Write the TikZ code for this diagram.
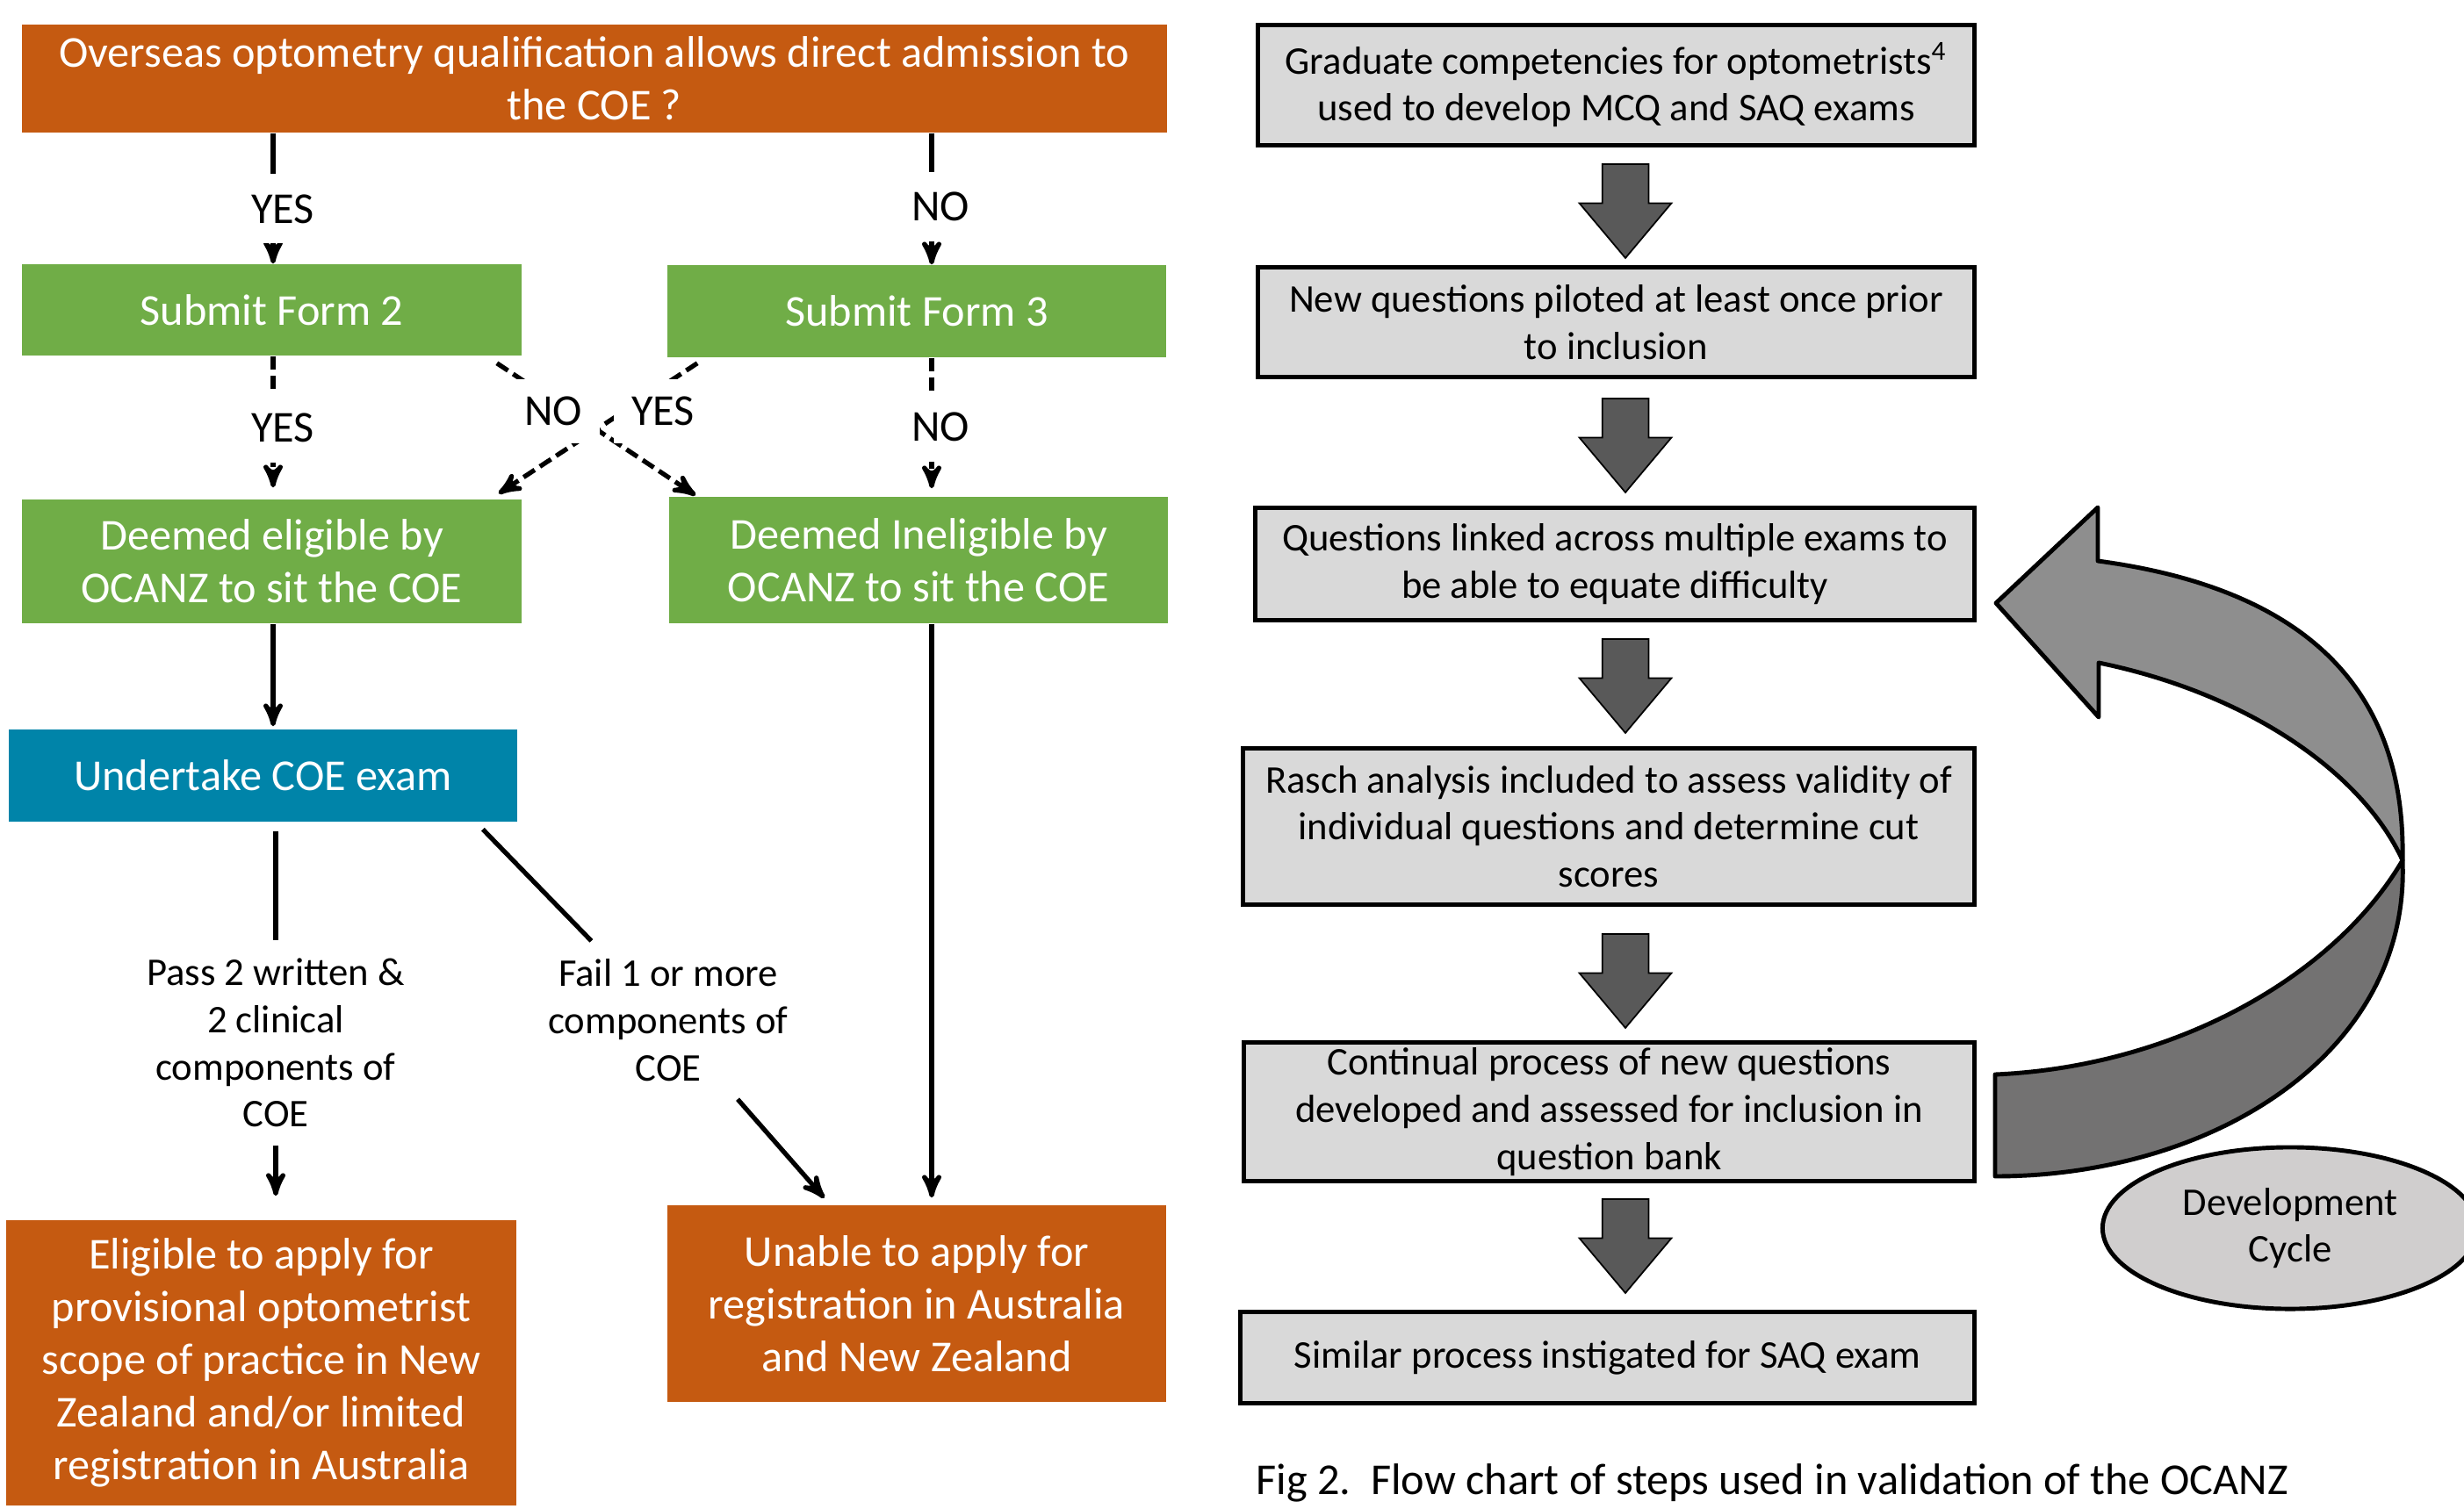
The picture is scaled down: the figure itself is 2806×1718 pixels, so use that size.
\documentclass[tikz,border=0pt]{standalone}
\usepackage{fontspec}
\setmainfont{Carlito}
\usetikzlibrary{arrows,positioning,shapes.geometric,shapes.arrows}
\definecolor{ocorange}{HTML}{C55A11}
\definecolor{ocgreen}{HTML}{70AD47}
\definecolor{ocblue}{HTML}{0084A9}
\definecolor{stepgray}{HTML}{D9D9D9}
\definecolor{arrowgray}{HTML}{595959}
\definecolor{cyclelight}{HTML}{8E8E8E}
\definecolor{cycledark}{HTML}{737272}
\definecolor{ellipsegray}{HTML}{D0CECE}
\newcommand{\ocbig}{\fontsize{14.3}{17.1}\selectfont}
\newcommand{\ocsmall}{\fontsize{12.7}{15.3}\selectfont}
\tikzset{>=stealth',
  every node/.style={inner sep=0pt},
  flowbox/.style={rectangle, text=white, align=center, font=\ocbig},
  stepbox/.style={rectangle, draw=black, line width=1.4pt, fill=stepgray,
    align=center, font=\ocsmall},
  blockarr/.style={single arrow, draw=black, line width=0.5pt, fill=arrowgray,
    shape border rotate=270, inner sep=0.255cm, minimum height=1.07cm,
    single arrow head extend=0.26cm, single arrow tip angle=80, anchor=tail},
  conn/.style={line width=1.5pt},
  dashconn/.style={line width=1.5pt, dash pattern=on 4.3pt off 2pt},
  lbl/.style={font=\ocbig, fill=white, inner xsep=2pt, inner ysep=0.23cm},
  cyclearrow/.style={draw=black, line width=1.4pt, line join=round}
}
\begin{document}
\begin{tikzpicture}[x=0.01cm, y=-0.01cm]
  \useasboundingbox (0,0) rectangle (2806,1718);
  \coordinate (colA) at (311,0);
  \coordinate (colB) at (1061,0);
  \node [flowbox, fill=ocorange, minimum width=13.04cm, minimum height=1.23cm] (question) at (677,89.5)
    {Overseas optometry qualification allows direct admission to\\the COE ?};
  \node [flowbox, fill=ocgreen, minimum width=5.69cm, minimum height=1.04cm] (form2) at (309.5,353) {Submit Form 2};
  \node [flowbox, fill=ocgreen, minimum width=5.68cm, minimum height=1.05cm] (form3) at (1044,354.5) {Submit Form 3};
  \node [flowbox, fill=ocgreen, minimum width=5.69cm, minimum height=1.41cm] (eligible) at (309.5,639.5)
    {Deemed eligible by\\OCANZ to sit the COE};
  \node [flowbox, fill=ocgreen, minimum width=5.68cm, minimum height=1.44cm] (ineligible) at (1046,638)
    {Deemed Ineligible by\\OCANZ to sit the COE};
  \node [flowbox, fill=ocblue, minimum width=5.79cm, minimum height=1.05cm] (exam) at (299.5,883.5) {Undertake COE exam};
  \node [flowbox, fill=ocorange, minimum width=5.81cm, minimum height=3.25cm] (apply) at (297.5,1552.5)
    {Eligible to apply for\\provisional optometrist\\scope of practice in New\\Zealand and/or limited\\registration in Australia};
  \node [flowbox, fill=ocorange, minimum width=5.68cm, minimum height=2.24cm] (unable) at (1044,1485)
    {Unable to apply for\\registration in Australia\\and New Zealand};
  \node [font=\ocsmall, align=center, inner ysep=0.2cm] (pass) at (314,1188)
    {Pass 2 written \&\\2 clinical\\components of\\COE};
  \node [font=\ocsmall, align=center, inner ysep=0.2cm] (fail) at (761,1162)
    {Fail 1 or more\\components of\\COE};
  \path
    (question.south -| colA) edge [conn,->] node [lbl, pos=0.58, xshift=0.11cm] {YES} (form2.north -| colA)
    (question.south -| colB) edge [conn,->] node [lbl, pos=0.56, xshift=0.1cm] {NO} (form3.north -| colB)
    (form2.south -| colA) edge [dashconn,->,shorten >=0.13cm] node [lbl, pos=0.5, xshift=0.11cm] {YES} (eligible.north -| colA)
    (form3.south -| colB) edge [dashconn,->,shorten >=0.09cm] node [lbl, pos=0.5, xshift=0.1cm] {NO} (ineligible.north -| colB)
    ([xshift=-0.29cm,yshift=-0.08cm]form2.south east) edge [dashconn,->] ([xshift=0.31cm,yshift=0.01cm]ineligible.north west)
    ([xshift=0.35cm,yshift=-0.06cm]form3.south west) edge [dashconn,->] ([xshift=-0.27cm,yshift=0.06cm]eligible.north east)
    (eligible.south -| colA) edge [conn,->,shorten >=0.03cm] (exam.north -| colA)
    (ineligible.south -| colB) edge [conn,->,shorten >=0.08cm] (unable.north -| colB)
    (exam.south -| pass) edge [conn,shorten <=0.1cm] (pass)
    (pass) edge [conn,->,shorten >=0.27cm] (apply.north -| pass)
    ([xshift=-0.4cm,yshift=-0.08cm]exam.south east) edge [conn] (fail)
    (fail) edge [conn,->,shorten >=0.1cm] (unable);
  \node [lbl, inner sep=0.2cm] (crossno) at (630,468) {NO};
  \node [lbl, inner sep=0.2cm] (crossyes) at (755,468) {YES};
  \node [stepbox, minimum width=8.16cm, minimum height=1.37cm] (grad) at (1840.5,97)
    {Graduate competencies for optometrists\textsuperscript{4}\\used to develop MCQ and SAQ exams};
  \node [stepbox, minimum width=8.16cm, minimum height=1.25cm] (pilot) at (1840.5,367)
    {New questions piloted at least once prior\\to inclusion};
  \node [stepbox, minimum width=8.19cm, minimum height=1.28cm] (linked) at (1839,642.5)
    {Questions linked across multiple exams to\\be able to equate difficulty};
  \node [stepbox, minimum width=8.33cm, minimum height=1.78cm] (rasch) at (1832,941.5)
    {Rasch analysis included to assess validity of\\individual questions and determine cut\\scores};
  \node [stepbox, minimum width=8.32cm, minimum height=1.58cm] (continual) at (1832.5,1266.5)
    {Continual process of new questions\\developed and assessed for inclusion in\\question bank};
  \node [stepbox, minimum width=8.36cm, minimum height=1.04cm] (similar) at (1830.5,1546.5)
    {Similar process instigated for SAQ exam};
  \node [blockarr] (arr1) at (1851,186) {};
  \node [blockarr] (arr2) at (1851,453) {};
  \node [blockarr] (arr3) at (1851,727) {};
  \node [blockarr] (arr4) at (1851,1063) {};
  \node [blockarr] (arr5) at (1851,1365) {};
  \draw [cyclearrow, fill=cycledark] (2272,1224) .. controls (2480,1215) and (2660,1110) .. (2736,980)
    .. controls (2745,1200) and (2520,1340) .. (2272,1340) -- cycle;
  \draw [cyclearrow, fill=cyclelight] (2273,687) -- (2389,578) -- (2389,639)
    .. controls (2620,670) and (2740,780) .. (2736,980)
    .. controls (2690,880) and (2560,790) .. (2390,755) -- (2390,817) -- cycle;
  \node [ellipse, draw=black, line width=1.4pt, fill=ellipsegray, minimum width=4.27cm, minimum height=1.84cm,
    align=center, font=\ocsmall] (devcycle) at (2608,1399) {Development\\Cycle};
  \node [anchor=west, font=\ocbig] (caption) at (1430,1689)
    {Fig 2.\ \ Flow chart of steps used in validation of the OCANZ};
\end{tikzpicture}
\end{document}
